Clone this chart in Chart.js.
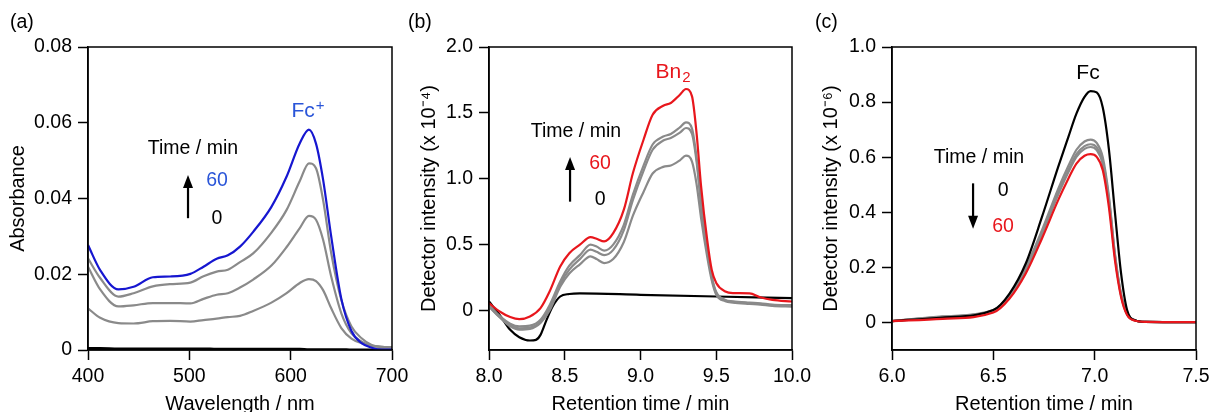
<!DOCTYPE html>
<html>
<head>
<meta charset="utf-8">
<script src="https://cdn.jsdelivr.net/npm/chart.js@4.4.1/dist/chart.umd.min.js"></script>
<style>
  html, body { margin: 0; padding: 0; background: #fff; overflow: hidden; }
  #wrap { position: relative; width: 1210px; height: 412px; }
  canvas { position: absolute; top: 0; }
</style>
</head>
<body>
<div id="wrap">
  <canvas id="chartA" width="420" height="412" style="left:0px"></canvas>
  <canvas id="chartB" width="420" height="412" style="left:400px"></canvas>
  <canvas id="chartC" width="420" height="412" style="left:810px"></canvas>
</div>
<script>
// ---- (a) UV-vis absorbance ----
var wavelength = [400, 412, 430, 445, 464, 481, 501, 514, 527, 538, 550, 563, 581, 596, 609, 618, 625, 632, 640, 650, 660, 670, 680, 690, 700];
var abs60 = [0.0277, 0.0211, 0.0160, 0.0167, 0.0192, 0.0194, 0.0201, 0.0220, 0.0241, 0.0250, 0.0273, 0.0312, 0.0378, 0.0458, 0.0546, 0.0582, 0.0545, 0.0450, 0.0300, 0.0135, 0.0050, 0.0018, 0.0006, 0.0001, 0.0001];
var absG1 = [0.0242, 0.0190, 0.0141, 0.0150, 0.0168, 0.0174, 0.0178, 0.0195, 0.0207, 0.0212, 0.0232, 0.0255, 0.0310, 0.0370, 0.0446, 0.0493, 0.0480, 0.0396, 0.0256, 0.0132, 0.0062, 0.0031, 0.0013, 0.0008, 0.0007];
var absG2 = [0.0220, 0.0160, 0.0115, 0.0118, 0.0124, 0.0124, 0.0123, 0.0135, 0.0146, 0.0150, 0.0165, 0.0186, 0.0223, 0.0272, 0.0322, 0.0354, 0.0344, 0.0291, 0.0194, 0.0097, 0.0044, 0.0022, 0.0011, 0.0008, 0.0007];
var absG3 = [0.0110, 0.0085, 0.0071, 0.0070, 0.0076, 0.0077, 0.0075, 0.0079, 0.0083, 0.0087, 0.0090, 0.0103, 0.0125, 0.0150, 0.0177, 0.0187, 0.0182, 0.0158, 0.0110, 0.0058, 0.0030, 0.0018, 0.0011, 0.0008, 0.0007];
var abs0  = [0.0005, 0.0005, 0.0004, 0.0004, 0.0004, 0.0004, 0.0004, 0.0004, 0.0003, 0.0003, 0.0003, 0.0003, 0.0003, 0.0003, 0.0003, 0.0002, 0.0002, 0.0002, 0.0002, 0.0002, 0.0001, 0.0001, 0.0001, 0.0001, 0.0001];
var aXTicks = [400, 500, 600, 700];
var aYTicks = [0, 0.02, 0.04, 0.06, 0.08];
var aYLabels = ['0', '0.02', '0.04', '0.06', '0.08'];

// ---- (b) Bn2 chromatogram ----
var timeB = [8.0, 8.07, 8.14, 8.2, 8.27, 8.34, 8.4, 8.47, 8.53, 8.6, 8.67, 8.71, 8.76, 8.82, 8.89, 8.95, 9.02, 9.08, 9.15, 9.2, 9.26, 9.3, 9.34, 9.37, 9.4, 9.44, 9.47, 9.5, 9.56, 9.61, 9.72, 9.79, 9.87, 10.0];
var bn60 = [0.056, -0.008, -0.05, -0.066, -0.046, 0.018, 0.144, 0.334, 0.435, 0.499, 0.557, 0.545, 0.524, 0.587, 0.765, 1.043, 1.296, 1.486, 1.554, 1.575, 1.638, 1.681, 1.625, 1.347, 0.942, 0.537, 0.309, 0.208, 0.144, 0.132, 0.13, 0.10, 0.08, 0.068];
var bnG1 = [0.04, -0.04, -0.10, -0.12, -0.115, -0.07, 0.04, 0.22, 0.34, 0.42, 0.50, 0.485, 0.455, 0.50, 0.65, 0.88, 1.10, 1.26, 1.32, 1.34, 1.39, 1.428, 1.38, 1.16, 0.82, 0.47, 0.26, 0.14, 0.08, 0.07, 0.06, 0.055, 0.045, 0.04];
var bnG2 = [0.03, -0.05, -0.11, -0.135, -0.13, -0.085, 0.02, 0.20, 0.31, 0.39, 0.462, 0.445, 0.42, 0.46, 0.61, 0.84, 1.06, 1.22, 1.29, 1.31, 1.35, 1.385, 1.34, 1.13, 0.80, 0.46, 0.25, 0.13, 0.075, 0.065, 0.055, 0.05, 0.04, 0.035];
var bnG3 = [0.03, -0.05, -0.12, -0.145, -0.14, -0.095, 0.00, 0.18, 0.28, 0.35, 0.411, 0.39, 0.36, 0.39, 0.52, 0.72, 0.90, 1.04, 1.09, 1.10, 1.14, 1.175, 1.13, 0.96, 0.70, 0.41, 0.23, 0.12, 0.07, 0.06, 0.05, 0.045, 0.035, 0.03];
var timeB0 = [8.0, 8.07, 8.14, 8.2, 8.27, 8.31, 8.34, 8.38, 8.42, 8.47, 8.53, 8.6, 9.0, 9.5, 10.0];
var bn0 = [0.068, -0.033, -0.147, -0.203, -0.228, -0.223, -0.185, -0.071, 0.03, 0.106, 0.125, 0.13, 0.119, 0.106, 0.094];
var bXTicks = [8.0, 8.5, 9.0, 9.5, 10.0];
var bYTicks = [0, 0.5, 1.0, 1.5, 2.0];
var bYLabels = ['0', '0.5', '1.0', '1.5', '2.0'];

// ---- (c) Fc chromatogram ----
var timeC = [6.0, 6.25, 6.5, 6.58, 6.66, 6.74, 6.82, 6.87, 6.91, 6.95, 6.98, 7.01, 7.04, 7.07, 7.1, 7.13, 7.16, 7.2, 7.25, 7.5];
var fc0  = [0.005, 0.018, 0.045, 0.105, 0.214, 0.383, 0.565, 0.673, 0.758, 0.819, 0.840, 0.835, 0.78, 0.63, 0.40, 0.18, 0.045, 0.008, 0.002, 0.001];
var fcG1 = [0.005, 0.022, 0.045, 0.10, 0.20, 0.335, 0.485, 0.568, 0.627, 0.657, 0.664, 0.652, 0.60, 0.46, 0.25, 0.105, 0.032, 0.008, 0.002, 0.001];
var fcG2 = [0.005, 0.020, 0.043, 0.097, 0.195, 0.327, 0.472, 0.553, 0.611, 0.640, 0.647, 0.636, 0.585, 0.45, 0.245, 0.10, 0.030, 0.007, 0.002, 0.001];
var fcG3 = [0.005, 0.020, 0.042, 0.095, 0.19, 0.32, 0.464, 0.545, 0.601, 0.630, 0.637, 0.626, 0.576, 0.44, 0.24, 0.10, 0.030, 0.007, 0.002, 0.001];
var fc60 = [0.005, 0.013, 0.036, 0.087, 0.178, 0.305, 0.444, 0.522, 0.577, 0.605, 0.611, 0.601, 0.553, 0.42, 0.226, 0.093, 0.027, 0.006, 0.002, 0.001];
var cXTicks = [6.0, 6.5, 7.0, 7.5];
var cYTicks = [0, 0.2, 0.4, 0.6, 0.8, 1.0];
var cYLabels = ['0', '0.2', '0.4', '0.6', '0.8', '1.0'];

var FONT = '"Liberation Sans", Arial, Helvetica, sans-serif';
var BLUE = '#1616d0', BLUE_TXT = '#2a55d8', RED = '#e8161c', GRAY = '#8a8a8a';

Chart.defaults.font.family = FONT;
Chart.defaults.font.size = 19.5;
Chart.defaults.color = '#000';

function pts(xs, ys) {
  return xs.map(function (x, i) { return { x: x, y: ys[i] }; });
}
function line(xs, ys, color) {
  return {
    data: pts(xs, ys), borderColor: color, borderWidth: 2.2, pointRadius: 0,
    fill: false, cubicInterpolationMode: 'monotone'
  };
}

// frame, panel letter, labels and arrows
var notesPlugin = {
  id: 'notes',
  afterDatasetsDraw: function (chart, args, o) {
    var ctx = chart.ctx, ca = chart.chartArea;
    var xs = chart.scales.x, ys = chart.scales.y;
    ctx.save();
    ctx.strokeStyle = '#000';
    ctx.lineWidth = 1.5;
    ctx.strokeRect(ca.left, ca.top, ca.right - ca.left, ca.bottom - ca.top);

    ctx.textBaseline = 'middle';
    ctx.font = '19.5px ' + FONT;
    ctx.fillStyle = '#000';
    ctx.textAlign = 'left';
    ctx.fillText(o.letter, o.letterX, 23);

    o.texts.forEach(function (t) {
      var px = xs.getPixelForValue(t.x), py = ys.getPixelForValue(t.y);
      var big = (t.size || 19.5) + 'px ' + FONT;
      ctx.font = big;
      var w1 = ctx.measureText(t.text).width, w2 = 0;
      if (t.sub || t.sup) {
        ctx.font = '15px ' + FONT;
        w2 = ctx.measureText(t.sub || t.sup).width + 1;
      }
      var x0 = px - (w1 + w2) / 2;
      ctx.fillStyle = t.color;
      ctx.textAlign = 'left';
      ctx.font = big;
      ctx.fillText(t.text, x0, py);
      if (t.sub) { ctx.font = '15px ' + FONT; ctx.fillText(t.sub, x0 + w1 + 1, py + 6); }
      if (t.sup) { ctx.font = '15px ' + FONT; ctx.fillText(t.sup, x0 + w1 + 1, py - 5); }
    });

    o.arrows.forEach(function (a) {
      var ax = xs.getPixelForValue(a.x);
      var y0 = ys.getPixelForValue(a.from), y1 = ys.getPixelForValue(a.to);
      var dir = y1 < y0 ? -1 : 1;
      ctx.strokeStyle = '#000';
      ctx.fillStyle = '#000';
      ctx.lineWidth = 2.2;
      ctx.beginPath();
      ctx.moveTo(ax, y0);
      ctx.lineTo(ax, y1 - dir * 10);
      ctx.stroke();
      ctx.beginPath();
      ctx.moveTo(ax, y1);
      ctx.lineTo(ax - 5, y1 - dir * 13);
      ctx.lineTo(ax + 5, y1 - dir * 13);
      ctx.closePath();
      ctx.fill();
    });
    ctx.restore();
  }
};

function axisX(min, max, ticks, fmt, title) {
  return {
    type: 'linear', min: min, max: max,
    afterBuildTicks: function (s) { s.ticks = ticks.map(function (v) { return { value: v }; }); },
    afterFit: function (s) { s.height = 62; },
    ticks: { callback: fmt, padding: 5, maxRotation: 0, autoSkip: false },
    grid: { display: true, drawOnChartArea: false, drawTicks: true, tickLength: 10, tickWidth: 1.5, tickColor: '#000' },
    border: { display: true, color: '#000', width: 1.5 },
    title: { display: true, text: title, font: { size: 20, lineHeight: 0.75 }, padding: 0 }
  };
}
function axisY(min, max, ticks, labels, title, width, titlePad) {
  return {
    type: 'linear', min: min, max: max,
    afterBuildTicks: function (s) { s.ticks = ticks.map(function (v) { return { value: v }; }); },
    afterFit: function (s) { s.width = width; },
    ticks: { callback: function (v, i) { return labels[i]; }, padding: 6, autoSkip: false },
    grid: { display: true, drawOnChartArea: false, drawTicks: true, tickLength: 10, tickWidth: 1.5, tickColor: '#000' },
    border: { display: true, color: '#000', width: 1.5 },
    title: { display: true, text: title, font: { size: 20, lineHeight: 1 }, padding: { top: titlePad, bottom: 0 } }
  };
}

function makeChart(id, datasets, xAxis, yAxis, padRight, notes) {
  return new Chart(document.getElementById(id), {
    type: 'line',
    data: { datasets: datasets },
    options: {
      responsive: false, animation: false, devicePixelRatio: 1,
      layout: { padding: { top: 47, right: padRight, left: 0, bottom: 0 } },
      scales: { x: xAxis, y: yAxis },
      plugins: { legend: { display: false }, tooltip: { enabled: false }, notes: notes }
    },
    plugins: [notesPlugin]
  });
}

makeChart('chartA',
  [line(wavelength, abs60, BLUE), line(wavelength, absG1, GRAY), line(wavelength, absG2, GRAY),
   line(wavelength, absG3, GRAY), line(wavelength, abs0, '#000')],
  axisX(400, 700, aXTicks, function (v) { return String(v); }, 'Wavelength / nm'),
  axisY(0, 0.08, aYTicks, aYLabels, 'Absorbance', 88, 8),
  28,
  {
    letter: '(a)', letterX: 10,
    texts: [
      { text: 'Time / min', x: 503.6, y: 0.0531, color: '#000' },
      { text: '60', x: 527.3, y: 0.0446, color: BLUE_TXT },
      { text: '0', x: 527.3, y: 0.0348, color: '#000' },
      { text: 'Fc', sup: '+', size: 21, x: 617.1, y: 0.0631, color: BLUE_TXT }
    ],
    arrows: [{ x: 498.7, from: 0.0348, to: 0.0462 }]
  });

makeChart('chartB',
  [line(timeB, bn60, RED), line(timeB, bnG1, GRAY), line(timeB, bnG2, GRAY),
   line(timeB, bnG3, GRAY), line(timeB0, bn0, '#000')],
  axisX(8, 10, bXTicks, function (v) { return v.toFixed(1); }, 'Retention time / min'),
  axisY(-0.3, 2.0, bYTicks, bYLabels, 'Detector intensity (x 10\u207B\u2074)', 89, 19),
  28,
  {
    letter: '(b)', letterX: 8,
    texts: [
      { text: 'Time / min', x: 8.574, y: 1.356, color: '#000' },
      { text: '60', x: 8.733, y: 1.114, color: RED },
      { text: '0', x: 8.733, y: 0.841, color: '#000' },
      { text: 'Bn', sub: '2', size: 21, x: 9.215, y: 1.811, color: RED }
    ],
    arrows: [{ x: 8.535, from: 0.826, to: 1.165 }]
  });

makeChart('chartC',
  [line(timeC, fc60, RED), line(timeC, fc0, '#000'), line(timeC, fcG1, GRAY),
   line(timeC, fcG2, GRAY), line(timeC, fcG3, GRAY)],
  axisX(6, 7.5, cXTicks, function (v) { return v.toFixed(1); }, 'Retention time / min'),
  axisY(-0.1, 1.0, cYTicks, cYLabels, 'Detector intensity (x 10\u207B\u2076)', 82, 11),
  34,
  {
    letter: '(c)', letterX: 5,
    texts: [
      { text: 'Time / min', x: 6.429, y: 0.600, color: '#000' },
      { text: '0', x: 6.548, y: 0.480, color: '#000' },
      { text: '60', x: 6.548, y: 0.349, color: RED },
      { text: 'Fc', size: 21, x: 6.967, y: 0.905, color: '#000' }
    ],
    arrows: [{ x: 6.400, from: 0.505, to: 0.340 }]
  });
</script>
</body>
</html>
